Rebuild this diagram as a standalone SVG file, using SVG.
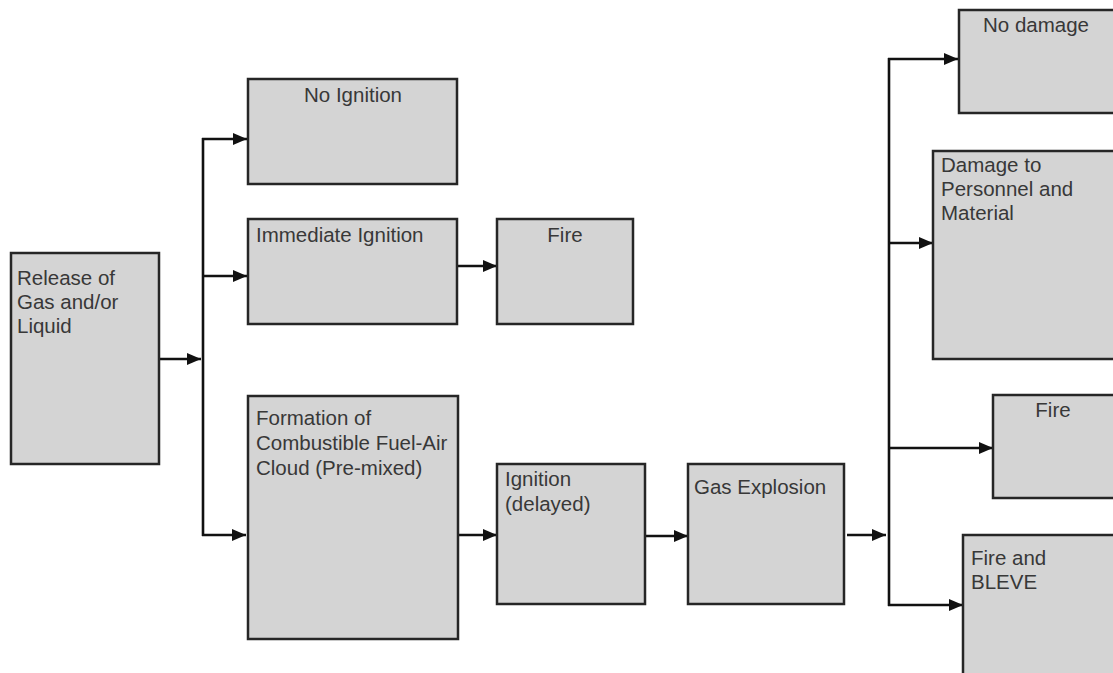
<svg xmlns="http://www.w3.org/2000/svg" width="1113" height="673" viewBox="0 0 1113 673">
<style>
.box{fill:#d4d4d4;stroke:#262626;stroke-width:2.5}
.t{font-family:"Liberation Sans",Arial,sans-serif;font-size:20.5px;fill:#383838}
.c{text-anchor:middle}
.ln{fill:none;stroke:#111;stroke-width:2.6}
</style>
<defs>
<marker id="ah" markerWidth="14" markerHeight="12" refX="14" refY="6" orient="auto" markerUnits="userSpaceOnUse">
<path d="M0,0 L14,6 L0,12 Z" fill="#111"/>
</marker>
</defs>
<rect width="1113" height="673" fill="#fff"/>
<g id="connectors">
<line class="ln" x1="159" y1="359" x2="201" y2="359" marker-end="url(#ah)"/>
<line class="ln" x1="203" y1="138" x2="203" y2="536"/>
<line class="ln" x1="202" y1="139" x2="247" y2="139" marker-end="url(#ah)"/>
<line class="ln" x1="202" y1="276" x2="247" y2="276" marker-end="url(#ah)"/>
<line class="ln" x1="202" y1="535" x2="246" y2="535" marker-end="url(#ah)"/>
<line class="ln" x1="457" y1="266" x2="497" y2="266" marker-end="url(#ah)"/>
<line class="ln" x1="458" y1="535" x2="497" y2="535" marker-end="url(#ah)"/>
<line class="ln" x1="645" y1="536" x2="688" y2="536" marker-end="url(#ah)"/>
<line class="ln" x1="847" y1="535" x2="886" y2="535" marker-end="url(#ah)"/>
<line class="ln" x1="889" y1="58" x2="889" y2="606"/>
<line class="ln" x1="888" y1="59" x2="958" y2="59" marker-end="url(#ah)"/>
<line class="ln" x1="888" y1="243" x2="933" y2="243" marker-end="url(#ah)"/>
<line class="ln" x1="888" y1="448" x2="993" y2="448" marker-end="url(#ah)"/>
<line class="ln" x1="888" y1="605" x2="963" y2="605" marker-end="url(#ah)"/>
</g>
<g id="release">
<rect class="box" x="11" y="253" width="148" height="211"/>
<text class="t" x="17" y="285">Release of</text>
<text class="t" x="17" y="309">Gas and/or</text>
<text class="t" x="17" y="333">Liquid</text>
</g>
<g id="no-ignition">
<rect class="box" x="248" y="79" width="209" height="105"/>
<text class="t c" x="353" y="102">No Ignition</text>
</g>
<g id="immediate-ignition">
<rect class="box" x="248" y="219" width="209" height="105"/>
<text class="t" x="256" y="242">Immediate Ignition</text>
</g>
<g id="fire1">
<rect class="box" x="497" y="219" width="136" height="105"/>
<text class="t c" x="565" y="242">Fire</text>
</g>
<g id="formation">
<rect class="box" x="248" y="396" width="210" height="243"/>
<text class="t" x="256" y="425">Formation of</text>
<text class="t" x="256" y="450">Combustible Fuel-Air</text>
<text class="t" x="256" y="475">Cloud (Pre-mixed)</text>
</g>
<g id="ignition-delayed">
<rect class="box" x="497" y="464" width="148" height="140"/>
<text class="t" x="505" y="486">Ignition</text>
<text class="t" x="505" y="511">(delayed)</text>
</g>
<g id="gas-explosion">
<rect class="box" x="688" y="464" width="156" height="140"/>
<text class="t" x="694" y="494">Gas Explosion</text>
</g>
<g id="no-damage">
<rect class="box" x="959" y="10" width="156" height="103"/>
<text class="t c" x="1036" y="32">No damage</text>
</g>
<g id="damage">
<rect class="box" x="933" y="151" width="182" height="208"/>
<text class="t" x="941" y="172">Damage to</text>
<text class="t" x="941" y="196">Personnel and</text>
<text class="t" x="941" y="220">Material</text>
</g>
<g id="fire2">
<rect class="box" x="993" y="395" width="122" height="103"/>
<text class="t c" x="1053" y="417">Fire</text>
</g>
<g id="fire-bleve">
<rect class="box" x="963" y="535" width="152" height="145"/>
<text class="t" x="971" y="565">Fire and</text>
<text class="t" x="971" y="589">BLEVE</text>
</g>
</svg>
